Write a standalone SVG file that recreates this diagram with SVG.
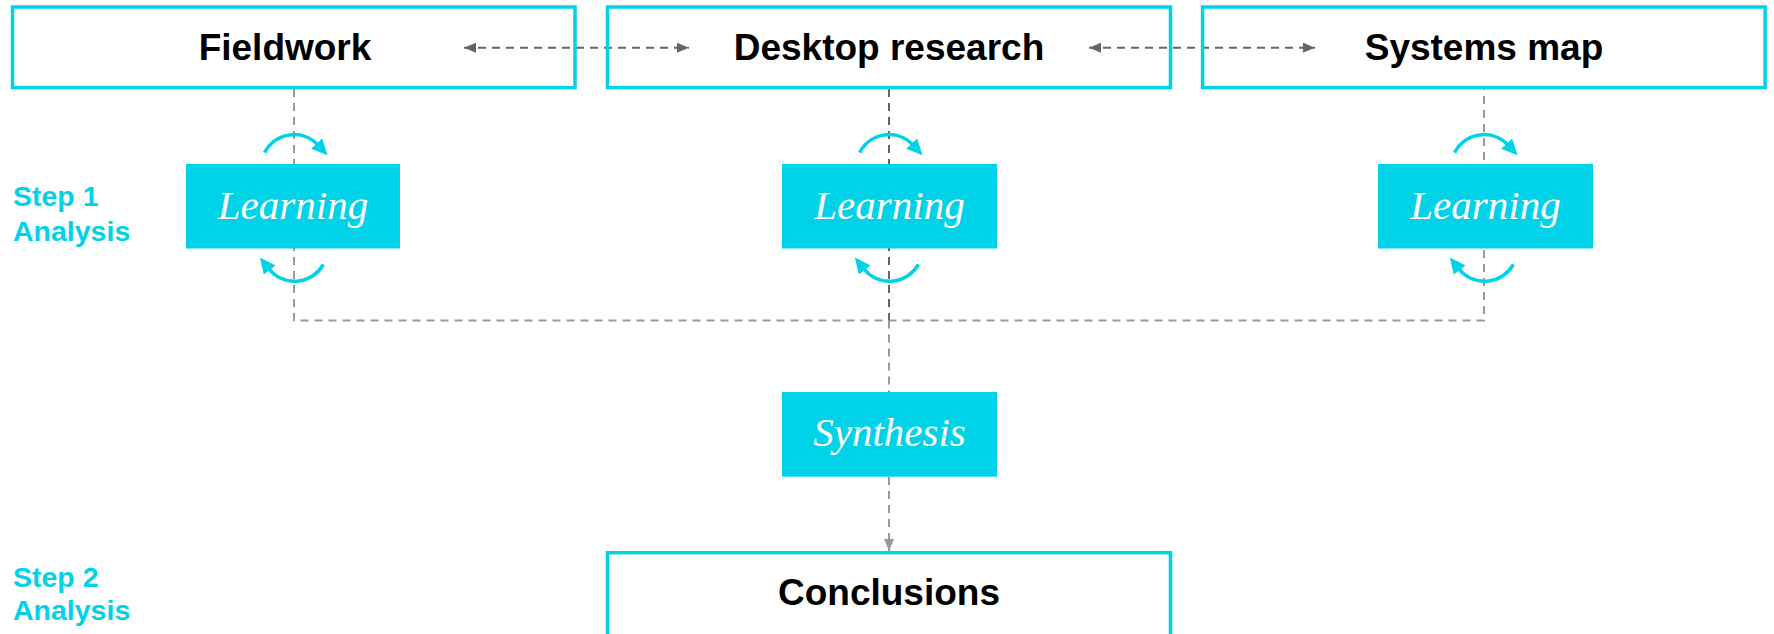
<svg xmlns="http://www.w3.org/2000/svg" xmlns:xlink="http://www.w3.org/1999/xlink" width="1774" height="634" viewBox="0 0 1774 634">
<style>
.box{fill:none;stroke:#00D2E8;stroke-width:3.5}
.fill{fill:#00D2E8}
.title{font-family:"Liberation Sans",Arial,sans-serif;font-weight:bold;font-size:37px;fill:#000;text-anchor:middle}
.ital{font-family:"Liberation Serif","Times New Roman",serif;font-style:italic;font-size:41px;fill:#fff;text-anchor:middle}
.step{font-family:"Liberation Sans",Arial,sans-serif;font-weight:bold;font-size:28.5px;fill:#00D2E8}
.dl{fill:none;stroke:#9a9a9a;stroke-width:2;stroke-dasharray:8 6}
.dd{fill:none;stroke:#666;stroke-width:2;stroke-dasharray:8 6}
.cyc{fill:none;stroke:#00D2E8;stroke-width:3.5}
</style>
<defs>
<marker id="ah" viewBox="0 0 12 10" refX="12" refY="5" markerUnits="userSpaceOnUse" markerWidth="12" markerHeight="10" orient="auto-start-reverse"><path d="M0,0 L12,5 L0,10 z" fill="#666"/></marker>
<marker id="ahl" viewBox="0 0 12 10" refX="12" refY="5" markerUnits="userSpaceOnUse" markerWidth="12" markerHeight="10" orient="auto"><path d="M0,0 L12,5 L0,10 z" fill="#9a9a9a"/></marker>
<marker id="ca" viewBox="0 0 16 15" refX="2" refY="7.5" markerUnits="userSpaceOnUse" markerWidth="16" markerHeight="15" orient="auto"><path d="M0,0 L16,7.5 L0,15 z" fill="#00D2E8"/></marker>
<g id="cycle">
<path class="cyc" d="M-29.4,152.6 A33,33 0 0 1 24,145" marker-end="url(#ca)"/>
<path class="cyc" d="M29.4,264.3 A33,33 0 0 1 -25.5,268.5" marker-end="url(#ca)"/>
</g>
</defs>

<g id="connectors">
<line class="dd" x1="464" y1="47.7" x2="689" y2="47.7" marker-start="url(#ah)" marker-end="url(#ah)"/>
<line class="dd" x1="1089" y1="47.7" x2="1315" y2="47.7" marker-start="url(#ah)" marker-end="url(#ah)"/>
<path class="dl" d="M294,89 V320.5 H1484 V89"/>
<line class="dd" x1="889" y1="89" x2="889" y2="320.5"/>
<line class="dl" x1="889" y1="320.5" x2="889" y2="392"/>
<line class="dl" x1="889" y1="477" x2="889" y2="551" marker-end="url(#ahl)"/>
</g>

<g id="fieldwork">
<rect class="box" x="12.5" y="7" width="562.5" height="80.6"/>
<text class="title" x="285" y="60">Fieldwork</text>
</g>
<g id="desktop-research">
<rect class="box" x="607.5" y="7" width="563" height="80.6"/>
<text class="title" x="889" y="60">Desktop research</text>
</g>
<g id="systems-map">
<rect class="box" x="1202.6" y="7" width="562.5" height="80.6"/>
<text class="title" x="1484" y="60">Systems map</text>
</g>

<g id="learning-1">
<rect class="fill" x="186" y="164" width="214" height="84.5"/>
<text class="ital" x="293" y="219">Learning</text>
</g>
<g id="learning-2">
<rect class="fill" x="782" y="164" width="215" height="84.5"/>
<text class="ital" x="889.5" y="219">Learning</text>
</g>
<g id="learning-3">
<rect class="fill" x="1378" y="164" width="215" height="84.5"/>
<text class="ital" x="1485.5" y="219">Learning</text>
</g>

<g id="cycles">
<use xlink:href="#cycle" x="294"/>
<use xlink:href="#cycle" x="889"/>
<use xlink:href="#cycle" x="1484"/>
</g>

<g id="synthesis">
<rect class="fill" x="782" y="392" width="215" height="84.7"/>
<text class="ital" x="889.5" y="446">Synthesis</text>
</g>

<g id="conclusions">
<rect class="box" x="607.5" y="552.7" width="563" height="95"/>
<text class="title" x="889" y="605">Conclusions</text>
</g>

<g id="step1">
<text class="step" x="13" y="205.7">Step 1</text>
<text class="step" x="13" y="240.7">Analysis</text>
</g>
<g id="step2">
<text class="step" x="13" y="587">Step 2</text>
<text class="step" x="13" y="620">Analysis</text>
</g>
</svg>
